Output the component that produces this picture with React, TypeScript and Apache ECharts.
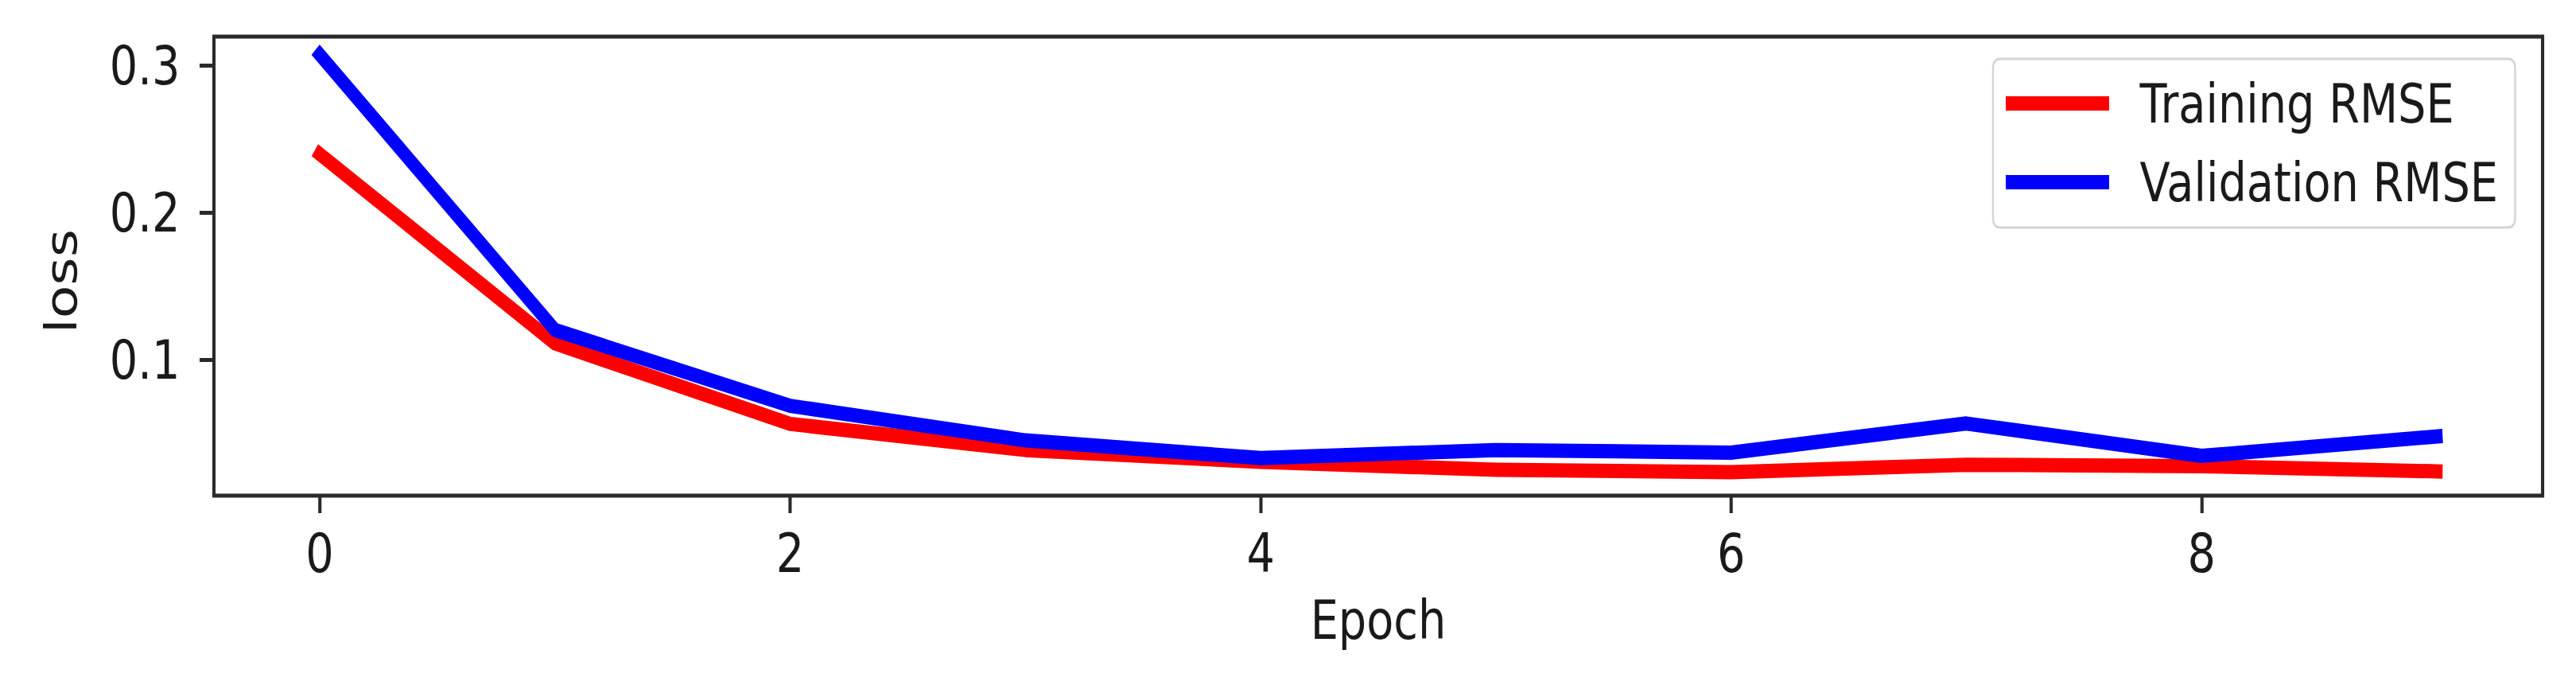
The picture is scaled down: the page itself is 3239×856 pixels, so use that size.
import React, { useEffect, useRef } from "react";
import * as echarts from "echarts";

const epochs = [0, 1, 2, 3, 4, 5, 6, 7, 8, 9];
const trainingRMSE = [0.24, 0.1114, 0.0567, 0.039, 0.031, 0.0255, 0.024, 0.029, 0.028, 0.0245];
const validationRMSE = [0.3075, 0.1205, 0.069, 0.0455, 0.0335, 0.039, 0.0372, 0.057, 0.035, 0.0482];
const xTicks = [0, 2, 4, 6, 8];
const yTicks = [0.1, 0.2, 0.3];

const S = 0.82; // horizontal squeeze of the reference picture
const W = 3239 / S;
const H = 856;
const FONT = "DejaVu Sans";
const TXT = "#1a1a1a";
const FS = 68;

export default function App() {
  const ref = useRef<HTMLDivElement>(null);
  useEffect(() => {
    document.body.style.margin = "0";
    document.documentElement.style.overflow = "hidden";
    document.body.style.overflow = "hidden";
    const chart = echarts.init(ref.current!, null, { renderer: "svg" });
    chart.setOption({
      animation: false,
      backgroundColor: "#ffffff",
      grid: {
        left: 269 / S,
        right: W - 3197 / S,
        top: 46,
        bottom: H - 623,
        show: true,
        borderColor: "#2a2a2a",
        borderWidth: 5,
        backgroundColor: "transparent",
      },
      legend: {
        left: 2506 / S,
        top: 74,
        orient: "vertical",
        icon: "rect",
        itemWidth: 130 / S,
        itemHeight: 18,
        itemGap: 25,
        padding: [19, 26, 20, 16 / S],
        backgroundColor: "#ffffff",
        borderColor: "#d4d4d4",
        borderWidth: 3,
        borderRadius: 10,
        textStyle: {
          fontFamily: FONT,
          fontSize: FS,
          lineHeight: 74,
          color: TXT,
          padding: [0, 0, 0, 42],
        },
        data: ["Training RMSE", "Validation RMSE"],
      },
      xAxis: {
        type: "value",
        min: -0.45,
        max: 9.45,
        name: "Epoch",
        nameLocation: "middle",
        nameGap: 122,
        nameTextStyle: { fontFamily: FONT, fontSize: FS, color: TXT },
        axisLine: { show: false, onZero: false },
        splitLine: { show: false },
        axisTick: {
          show: true,
          customValues: xTicks,
          length: 22,
          lineStyle: { color: "#2a2a2a", width: 5 },
        },
        axisLabel: {
          customValues: xTicks,
          fontFamily: FONT,
          fontSize: FS,
          color: TXT,
          margin: 38,
        },
      },
      yAxis: {
        type: "value",
        min: 0.008,
        max: 0.3198,
        name: "loss",
        nameLocation: "middle",
        nameGap: 200,
        nameTextStyle: { fontFamily: FONT, fontSize: FS, color: TXT, padding: [0, 38, 0, 0] },
        axisLine: { show: false, onZero: false },
        splitLine: { show: false },
        axisTick: {
          show: true,
          customValues: yTicks,
          length: 22,
          lineStyle: { color: "#2a2a2a", width: 5 },
        },
        axisLabel: {
          customValues: yTicks,
          fontFamily: FONT,
          fontSize: FS,
          color: TXT,
          margin: 52,
          formatter: (v: number) => v.toFixed(1),
        },
      },
      series: [
        {
          name: "Training RMSE",
          type: "line",
          data: epochs.map((e, i) => [e, trainingRMSE[i]]),
          symbol: "none",
          color: "#ff0000",
          lineStyle: { width: 18, color: "#ff0000", cap: "square", join: "round" },
        },
        {
          name: "Validation RMSE",
          type: "line",
          data: epochs.map((e, i) => [e, validationRMSE[i]]),
          symbol: "none",
          color: "#0000ff",
          lineStyle: { width: 18, color: "#0000ff", cap: "square", join: "round" },
        },
      ],
    });
    return () => chart.dispose();
  }, []);
  return (
    <div
      ref={ref}
      style={{
        position: "absolute",
        left: 0,
        top: 0,
        width: W,
        height: H,
        transform: `scaleX(${S})`,
        transformOrigin: "0 0",
      }}
    />
  );
}
